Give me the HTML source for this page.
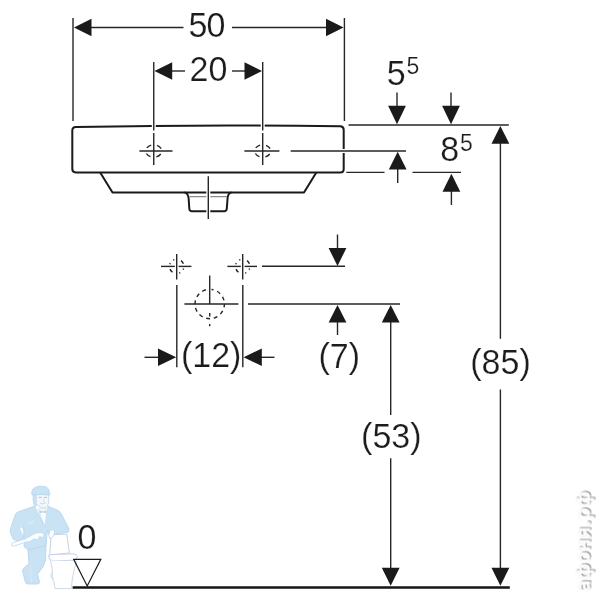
<!DOCTYPE html>
<html><head><meta charset="utf-8">
<style>
html,body{margin:0;padding:0;background:#fff;}
body{width:600px;height:600px;overflow:hidden;}
svg{display:block;filter:blur(0.35px);}
text{font-family:"Liberation Sans",sans-serif;fill:#1c1c1c;stroke:#fff;stroke-width:0.22px;}
.t{font-size:34px;}
.s{font-size:23px;}
.p{letter-spacing:0px;}
.thin{stroke:#262626;stroke-width:1.4;fill:none;}
.thick{stroke:#1a1a1a;stroke-width:2;fill:none;stroke-linejoin:round;stroke-linecap:round;}
.ar{fill:#1a1a1a;stroke:none;}
.halo{stroke:#fff;stroke-width:4;fill:none;}
</style></head>
<body>
<svg width="600" height="600" viewBox="0 0 600 600">
<rect width="600" height="600" fill="#fff"/>

<!-- mascot -->
<g id="mascot" stroke-linejoin="round" stroke-linecap="round">
<!-- legs -->
<path d="M24.5,540 L46.2,538 L45.6,560 Q44,567 37.5,574 L39.5,581.5 Q40.5,584 36,584 L27.5,584 Q25.5,584 25,581 L22.6,571 Q22.3,569 24,568 L29,563.5 L27.8,549 Z" fill="#c9e3f5" stroke="#b4d3ea" stroke-width="0.8"/>
<path d="M30.5,566 L31.5,583" stroke="#dbe9f6" stroke-width="1" fill="none"/>
<!-- toilet -->
<path d="M51.6,534.5 L66.8,534.2 L69.3,553 L50,555 Z" fill="#fff" stroke="#c4d3e6" stroke-width="1"/>
<path d="M48.6,556.5 Q48,554.6 51,554.6 L73,553.8 Q77,553.8 77.2,556.5 Q77.2,559.8 73,560.2 L53,561 Q49,560.5 48.6,556.5 Z" fill="#fff" stroke="#c4d3e6" stroke-width="1"/>
<path d="M50.5,560.8 Q53,570 52.2,575 Q51.5,579 54,582 L55,588.6 L71.5,588.6 Q71.5,578 76.5,561" fill="#fff" stroke="#ccd9ea" stroke-width="1"/>
<path d="M52.5,572 Q50.5,573 51,576.5 Q51.5,578.5 53.5,578.5" fill="none" stroke="#ccd9ea" stroke-width="1"/>
<!-- jacket -->
<path d="M34.2,506.2 L17.8,512 Q15.5,513 14.8,516 L10.2,529.5 Q9.8,531.5 11,534 L13.5,539.5 L20.5,541.5 L23.8,537 L22,530.5 L23.7,527 L24.2,547 L27.8,549.5 L45.8,546 L46.5,538.8 L47.5,530 L49.3,535.5 L55.2,534.4 L68.6,532 Q69.2,530 68.4,527.5 L60.5,512.5 Q59.5,511 57,510 L48.2,506.2 L44.7,526 Z" fill="#c9e3f5" stroke="#b4d3ea" stroke-width="0.8"/>
<!-- shirt -->
<path d="M38.6,509 L47.4,509 L44.8,526.5 Z" fill="#fbfdff" stroke="#c0d8ef" stroke-width="0.6"/>
<path d="M39.5,510.2 L42.8,511.6 L46.3,510.2 L46.3,513.4 L42.8,512.2 L39.5,513.4 Z" fill="#b4d3ea"/>
<!-- gap between arm and body -->
<path d="M20.2,528 L22.6,527.5 L23.2,536 Z" fill="#fff"/>
<!-- wrench and hands -->
<path d="M12,545.5 Q10.5,544 12.5,542.8 L26,538.6 L33.5,534.2 Q37,531.8 41.5,532.6 L44.2,534 L43.2,538 L39.6,536.4 L38,540 L34,538.8 L30,541.6 L25.6,542.2 L14.5,546 Q12.8,546.4 12,545.5 Z" fill="#fbfdff" stroke="#bcd5ee" stroke-width="0.8"/>
<path d="M50,530.5 Q52.5,528.6 54.6,531 L53.8,536 L50,538.6 L48.8,535.6 Z" fill="#fbfdff" stroke="#bcd5ee" stroke-width="0.8"/>
<path d="M28,522.5 L33.5,520.6 L34,522.6 L29,524.6 Z" fill="#dbe9f6"/>
<!-- head -->
<path d="M33,494 L36.5,494 L36.5,505.5 L34.4,506 Q32.4,501 33,494 Z" fill="#c9e3f5" stroke="#b4d3ea" stroke-width="0.6"/>
<path d="M36.4,494.2 L48.6,495 L48.7,502.5 Q47.6,507.8 43.2,508.2 Q38.5,507.6 36.4,503.6 Z" fill="#f4f8fc" stroke="#bcd5ee" stroke-width="0.8"/>
<path d="M40.2,503.2 Q42.8,505 45.6,503" fill="none" stroke="#b4d3ea" stroke-width="0.8"/>
<path d="M39,497.4 L41.6,497.2 M44.4,497.2 L46.8,497.6" fill="none" stroke="#a9c8e6" stroke-width="1"/>
<path d="M43.6,498 L44.2,501.5" fill="none" stroke="#c0d8ef" stroke-width="0.8"/>
<!-- cap -->
<path d="M31.8,494.4 Q30.6,486.6 40.4,486.2 Q48.8,486 49.2,491.4 L49.8,495 Q43,493.4 36.4,494.8 Z" fill="#c9e3f5" stroke="#b4d3ea" stroke-width="0.8"/>
</g>

<!-- basin -->
<g class="thick">
<path d="M75.8,127 Q208,124.4 340.2,126.3 Q343.7,126.4 343.7,129.8 L343.7,169 Q343.7,172.5 340.2,172.5 L75.8,172.4 Q72.3,172.4 72.3,169 L72.3,130.5 Q72.3,127 75.8,127 Z"/>
<path d="M100.5,173 L112.5,192.6 L304,192.6 L316,173"/>
<path d="M185,192.6 Q188,193.5 188.6,198 L189.3,208.5 Q189.5,211.3 192,211.3 L224,211.3 Q226.6,211.3 226.8,208.5 L227.6,198 Q228,193.5 231,192.6"/>
</g>
<line x1="189.5" y1="196.7" x2="227" y2="196.7" stroke="#8a8a8a" stroke-width="1.2"/>

<!-- halos -->
<g class="halo">
<line x1="153.75" y1="122" x2="153.75" y2="130"/>
<line x1="262.7" y1="122" x2="262.7" y2="130"/>
<line x1="208.3" y1="176" x2="208.3" y2="219"/>
<line x1="338" y1="151" x2="349" y2="151"/>
</g>

<!-- thin lines -->
<g class="thin">
<!-- dim 50 -->
<line x1="73" y1="18" x2="73" y2="121"/>
<line x1="344.4" y1="18" x2="344.4" y2="121"/>
<line x1="90" y1="27.5" x2="183.5" y2="27.5"/>
<line x1="232" y1="27.5" x2="328" y2="27.5"/>
<!-- dim 20 -->
<line x1="153.75" y1="62" x2="153.75" y2="130.6"/>
<line x1="153.75" y1="133" x2="153.75" y2="165"/>
<line x1="262.7" y1="62" x2="262.7" y2="130.6"/>
<line x1="262.7" y1="133" x2="262.7" y2="165"/>
<line x1="171" y1="71" x2="185" y2="71"/>
<line x1="232" y1="71" x2="246" y2="71"/>
<!-- tap holes in basin -->
<line x1="139.4" y1="151" x2="172.5" y2="151"/>
<line x1="244.4" y1="151" x2="279.4" y2="151"/>
<ellipse cx="153.75" cy="151" rx="8" ry="6.2" stroke-dasharray="5.2,5.9" stroke-dashoffset="-3.2"/>
<ellipse cx="262.7" cy="151" rx="8" ry="6.2" stroke-dasharray="5.2,5.9" stroke-dashoffset="-3.2"/>
<!-- drain centre -->
<line x1="208.3" y1="176.3" x2="208.3" y2="219"/>
<!-- right side dims -->
<line x1="348.5" y1="125" x2="508.8" y2="125"/>
<line x1="290.7" y1="151" x2="406" y2="151"/>
<line x1="346.3" y1="172.4" x2="384.5" y2="172.4"/>
<line x1="412.5" y1="172.4" x2="461" y2="172.4"/>
<line x1="397" y1="92.5" x2="397" y2="107"/>
<line x1="451" y1="92.5" x2="451" y2="107"/>
<line x1="397.7" y1="168" x2="397.7" y2="183"/>
<line x1="451.4" y1="190" x2="451.4" y2="205"/>
<!-- 85 -->
<line x1="500.4" y1="142" x2="500.4" y2="338.8"/>
<line x1="500.4" y1="389.5" x2="500.4" y2="569"/>
<!-- lower symbols -->
<line x1="161" y1="266.4" x2="191.4" y2="266.4"/>
<line x1="227.4" y1="266.4" x2="257" y2="266.4"/>
<line x1="262" y1="266.2" x2="345" y2="266.2"/>
<path d="M176.7,263 V270 M242.7,263 V270" style="stroke:#fff;stroke-width:3.8"/>
<line x1="176.7" y1="254" x2="176.7" y2="279.5"/>
<line x1="242.7" y1="254" x2="242.7" y2="279.5"/>
<circle cx="176.7" cy="266.4" r="7.2" stroke-dasharray="4 5 1.2 4.2 1.2 7" stroke-dashoffset="-15.7"/>
<circle cx="242.7" cy="266.4" r="7.2" stroke-dasharray="4 5 1.2 4.2 1.2 7" stroke-dashoffset="-15.7"/>
<line x1="176.8" y1="285" x2="176.8" y2="367.2"/>
<line x1="242.8" y1="285" x2="242.8" y2="367.2"/>
<circle cx="209.7" cy="304" r="14.7" stroke-dasharray="3.9,3.797" stroke-dashoffset="-7.2"/>
<line x1="184.4" y1="304" x2="238.4" y2="304"/>
<line x1="248" y1="304" x2="400" y2="304"/>
<path d="M209.7,285 V294" style="stroke:#fff;stroke-width:3.6"/>
<line x1="209.7" y1="275.6" x2="209.7" y2="304"/>
<line x1="209.7" y1="313" x2="209.7" y2="316.6"/>
<line x1="209.7" y1="324" x2="209.7" y2="326.2"/>
<line x1="337.5" y1="234.5" x2="337.5" y2="250"/>
<line x1="337.5" y1="320" x2="337.5" y2="335"/>
<line x1="390.7" y1="320" x2="390.7" y2="415"/>
<line x1="390.7" y1="458.3" x2="390.7" y2="569"/>
<!-- 12 arrows lines -->
<line x1="144.5" y1="357.3" x2="160" y2="357.3"/>
<line x1="260" y1="357.3" x2="274.5" y2="357.3"/>
<!-- level triangle -->
<path d="M73.7,559.3 L100.8,559.3 L87.2,586 Z" stroke="#1a1a1a" stroke-width="1.2"/>
</g>

<!-- arrowheads -->
<g class="ar">
<path d="M74,27.5 L91.5,18.7 L91.5,36.3 Z"/>
<path d="M343.6,27.5 L326,18.7 L326,36.3 Z"/>
<path d="M154.5,71 L172.2,62.2 L172.2,79.8 Z"/>
<path d="M262,71 L244.5,62.2 L244.5,79.8 Z"/>
<path d="M397,124.2 L388.1,105.8 L405.9,105.8 Z"/>
<path d="M451,124.2 L442.1,105.8 L459.9,105.8 Z"/>
<path d="M397.7,151.8 L388.8,169.5 L406.6,169.5 Z"/>
<path d="M451.4,173.8 L442.5,191.8 L460.3,191.8 Z"/>
<path d="M500.4,126 L491.5,143.8 L509.3,143.8 Z"/>
<path d="M500.4,585.8 L491.5,567.7 L509.3,567.7 Z"/>
<path d="M390.7,585.8 L381.8,567.7 L399.6,567.7 Z"/>
<path d="M390.7,305 L381.8,322.5 L399.6,322.5 Z"/>
<path d="M337.5,305 L328.6,322.5 L346.4,322.5 Z"/>
<path d="M337.5,266 L328.6,248 L346.4,248 Z"/>
<path d="M176.2,357.3 L158,348.5 L158,366.1 Z"/>
<path d="M243.6,357.3 L261.8,348.5 L261.8,366.1 Z"/>
</g>

<!-- floor -->
<line x1="72.6" y1="587.5" x2="509.8" y2="587.5" stroke="#151515" stroke-width="2.7"/>

<!-- texts -->
<g id="txt">
<text class="t" transform="translate(206.5,36.6) scale(1,1.05)" text-anchor="middle" style="letter-spacing:-1px">50</text>
<text class="t" transform="translate(208.4,80.6) scale(1,1.05)" text-anchor="middle">20</text>
<text class="t" transform="translate(386.8,84.8) scale(1,1.05)">5</text>
<text class="s" transform="translate(406.4,73.8) scale(1,1.05)">5</text>
<text class="t" transform="translate(440.2,161.3) scale(1,1.05)">8</text>
<text class="s" transform="translate(460,150.9) scale(1,1.05)">5</text>
<text class="t p" transform="translate(211.2,366.6) scale(1,1.05)" text-anchor="middle">(12)</text>
<text class="t p" transform="translate(339.3,368) scale(1,1.05)" text-anchor="middle">(7)</text>
<text class="t p" transform="translate(391.3,447.8) scale(1,1.05)" text-anchor="middle">(53)</text>
<text class="t p" transform="translate(500.5,373.5) scale(1,1.05)" text-anchor="middle">(85)</text>
<text class="t" transform="translate(87.0,549.3) scale(1,1.05)" text-anchor="middle">0</text>
</g>
<!-- watermark -->
<defs><filter id="ws" x="-20%" y="-50%" width="140%" height="200%"><feGaussianBlur in="SourceAlpha" stdDeviation="0.75" result="b"/><feOffset in="b" dx="0.9" dy="0.9" result="o1"/><feFlood flood-color="#555" flood-opacity="0.8"/><feComposite in2="o1" operator="in" result="s1"/><feGaussianBlur in="SourceAlpha" stdDeviation="0.7" result="b2"/><feFlood flood-color="#777" flood-opacity="0.5"/><feComposite in2="b2" operator="in" result="s2"/><feMerge><feMergeNode in="s2"/><feMergeNode in="s1"/><feMergeNode in="SourceGraphic"/></feMerge></filter></defs>
<text transform="translate(589.6,591.5) rotate(-90)" textLength="100" lengthAdjust="spacing" filter="url(#ws)" style="font-family:'DejaVu Sans','Liberation Sans',sans-serif;font-size:18.5px;font-weight:normal;fill:#fff;stroke:#fff;stroke-width:0.9px;">афоня.рф</text>
</svg>
</body></html>
